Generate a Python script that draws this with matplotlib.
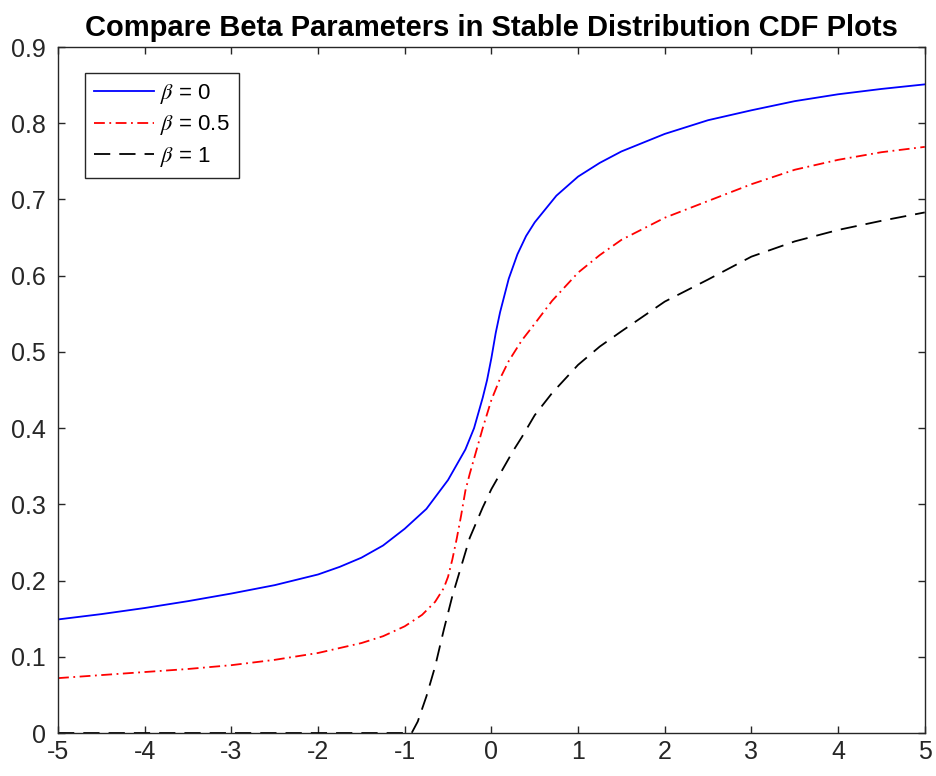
import numpy as np
import matplotlib.pyplot as plt

plt.rcParams['font.family'] = ['Liberation Sans', 'DejaVu Sans']
plt.rcParams['axes.unicode_minus'] = False
plt.rcParams['mathtext.fontset'] = 'stix'

# values
x_b0 = [-5, -4.5, -4, -3.5, -3, -2.5, -2, -1.75, -1.5, -1.25, -1, -0.75, -0.5, -0.3, -0.2,
        -0.1, -0.05, 0, 0.05, 0.1, 0.2, 0.3, 0.4, 0.5, 0.75, 1, 1.25, 1.5, 2, 2.5, 3, 3.5, 4,
        4.5, 5]
y_b0 = [0.149, 0.156, 0.164, 0.173, 0.183, 0.194, 0.208, 0.218, 0.230, 0.246, 0.268, 0.294,
        0.332, 0.372, 0.400, 0.440, 0.463, 0.492, 0.525, 0.552, 0.596, 0.628, 0.652, 0.670,
        0.705, 0.730, 0.748, 0.763, 0.786, 0.804, 0.817, 0.829, 0.838, 0.845, 0.851]

x_b05 = [-5, -4.5, -4, -3.5, -3, -2.5, -2, -1.5, -1.25, -1, -0.8, -0.65, -0.55, -0.5, -0.45,
         -0.4, -0.35, -0.3, -0.25, -0.2, -0.1, 0, 0.1, 0.2, 0.35, 0.5, 0.7, 1, 1.25, 1.5, 2,
         2.5, 3, 3.5, 4, 4.5, 5]
y_b05 = [0.072, 0.076, 0.080, 0.084, 0.089, 0.096, 0.105, 0.118, 0.127, 0.140, 0.155, 0.172,
         0.190, 0.205, 0.228, 0.255, 0.285, 0.318, 0.340, 0.360, 0.400, 0.437, 0.465, 0.488,
         0.515, 0.537, 0.567, 0.604, 0.627, 0.647, 0.676, 0.698, 0.720, 0.739, 0.752, 0.762,
         0.769]

x_b1 = [-5, -4, -3, -2, -1, -0.92, -0.85, -0.75, -0.65, -0.55, -0.45, -0.35, -0.25, -0.1, 0,
        0.1, 0.25, 0.35, 0.5, 0.7, 1, 1.25, 1.5, 2, 2.5, 3, 3.5, 4, 4.5, 5]
y_b1 = [0, 0, 0, 0, 0, 0, 0.015, 0.048, 0.087, 0.135, 0.180, 0.218, 0.256, 0.296, 0.320,
        0.340, 0.370, 0.388, 0.417, 0.446, 0.483, 0.507, 0.527, 0.566, 0.595, 0.625, 0.645,
        0.660, 0.672, 0.683]

labels = [r'$\beta$ = 0', r'$\beta$ = 0.5', r'$\beta$ = 1']

fig = plt.figure(figsize=(9.36, 7.76), dpi=100)
ax = fig.add_axes([0.062, 0.0554, 0.926, 0.884])

ax.plot(x_b0, y_b0, color='blue', lw=1.3, label=labels[0])
ax.plot(x_b05, y_b05, color='red', lw=1.3, dashes=(6, 2.5, 1, 2.5), label=labels[1])
ax.plot(x_b1, y_b1, color='black', lw=1.3, dashes=(9, 5), label=labels[2])

ax.set_xlim(-5, 5)
ax.set_ylim(0, 0.9)
ax.set_xticks(np.arange(-5, 6, 1))
ax.set_yticks(np.arange(0, 0.91, 0.1))
ax.set_yticklabels(['0', '0.1', '0.2', '0.3', '0.4', '0.5', '0.6', '0.7', '0.8', '0.9'])
ax.tick_params(direction='in', top=True, right=True, length=5, width=1,
               labelsize=18, colors='0.15')
ax.tick_params(axis='y', pad=9)
ax.tick_params(axis='x', pad=5)
for s in ax.spines.values():
    s.set_color('0.15')
    s.set_linewidth(1)

ax.set_title('Compare Beta Parameters in Stable Distribution CDF Plots',
             fontsize=21, fontweight='bold', pad=8)

leg = ax.legend(loc='upper left', bbox_to_anchor=(0.031, 0.962), borderaxespad=0,
                fontsize=16, handlelength=2.7, fancybox=False, framealpha=1,
                edgecolor='0.15', borderpad=0.4, labelspacing=0.33, handletextpad=0.3)
leg.get_frame().set_linewidth(1)

plt.savefig('out.png')
